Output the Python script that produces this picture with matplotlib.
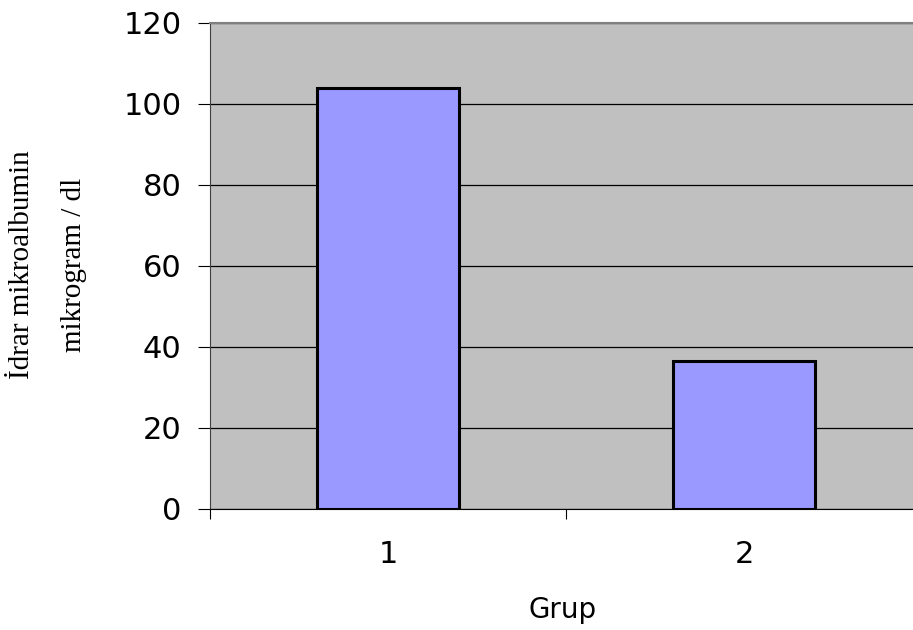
import matplotlib
matplotlib.use('Agg')
import matplotlib.pyplot as plt

# data
groups = ['1', '2']
values = [103.8, 36.4]
yticks = [0, 20, 40, 60, 80, 100, 120]

fig = plt.figure(figsize=(9.13, 6.3), dpi=100)
# plot area runs past the right edge, as in the original
ax = fig.add_axes([210 / 913, 1 - 509 / 630, 712 / 913, (509 - 22.7) / 630])
ax.set_facecolor('#C0C0C0')

pos = list(range(1, len(groups) + 1))
ax.bar(pos, values, width=0.4, color='#9999FF', edgecolor='black',
       linewidth=2.2, zorder=3)

ax.set_xlim(0.5, len(groups) + 0.5)
ax.set_ylim(0, 120)
ax.set_yticks(yticks)
ax.yaxis.grid(True, color='black', linewidth=0.9, zorder=1)
ax.set_axisbelow(True)

# category boundaries as ticks, labels in the middle
ax.set_xticks([p + 0.5 for p in [0] + pos])
ax.set_xticklabels([])
ax.set_xticks(pos, minor=True)
ax.set_xticklabels(groups, minor=True)
ax.tick_params(axis='x', which='major', direction='out', length=7.5, width=0.8)
ax.tick_params(axis='x', which='minor', length=0, pad=22, labelsize=22)
ax.tick_params(axis='y', direction='out', length=8.5, width=0.8, pad=12,
               labelsize=22)
for lab in ax.get_xticklabels(minor=True) + ax.get_yticklabels():
    lab.set_family('DejaVu Sans')

ax.spines['top'].set_color('#808080')
ax.spines['top'].set_linewidth(1.5)
ax.spines['right'].set_visible(False)
ax.spines['left'].set_color('#404040')
ax.spines['bottom'].set_color('black')

fig.text(563 / 913, 1 - 610 / 630, 'Grup', ha='center', va='center',
         fontsize=20, family='DejaVu Sans')
fig.text(48 / 913, 1 - 265 / 630, 'İdrar mikroalbumin\nmikrogram / dl',
         rotation=90, ha='center', va='center', multialignment='center',
         fontsize=21, family='Liberation Serif', linespacing=2.3)

plt.savefig('out.png', dpi=100)
